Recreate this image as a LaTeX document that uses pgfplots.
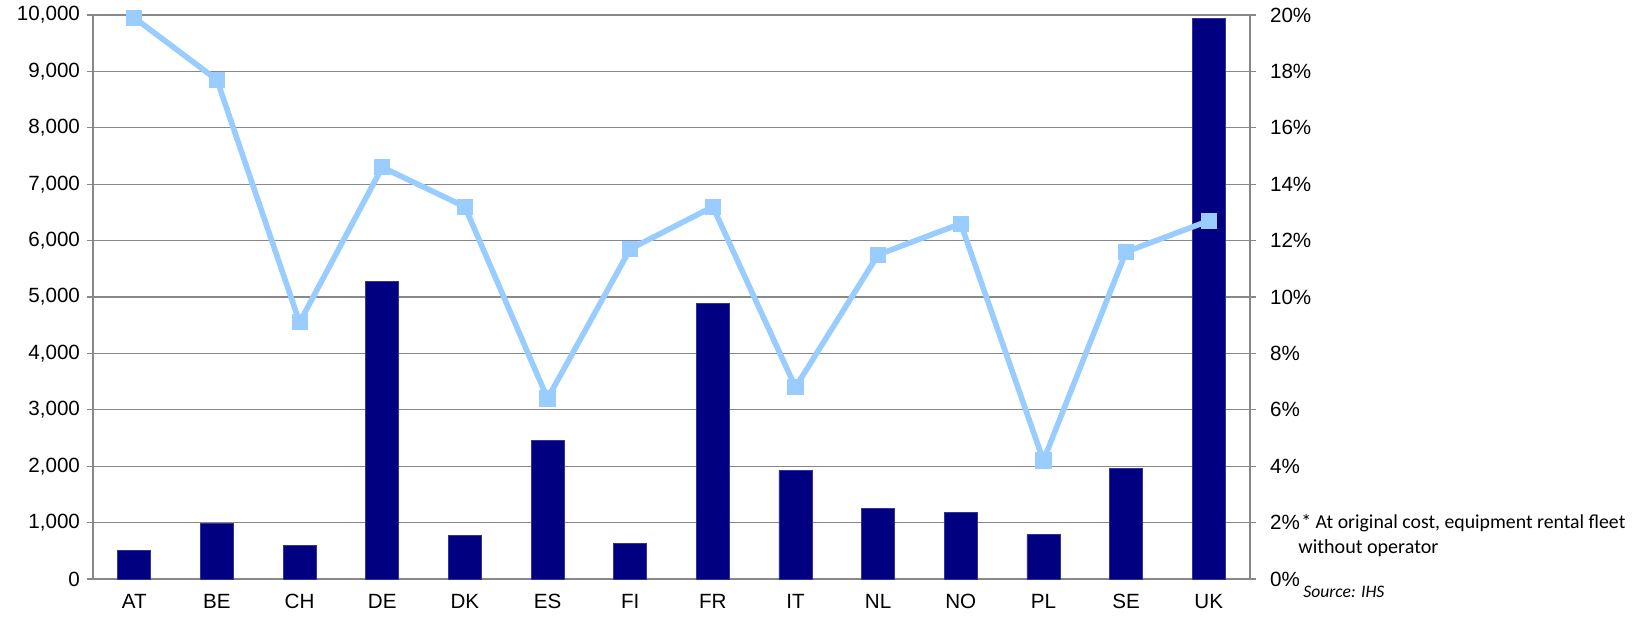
\documentclass[border=0pt]{standalone}
\usepackage{fontspec}
\setmainfont{Liberation Sans}
\newfontfamily\notefont{Carlito}
\usepackage{graphicx}
\usepackage{pgfplots}
\pgfplotsset{compat=1.18}
\definecolor{navybar}{HTML}{000080}
\definecolor{lineblue}{HTML}{99CCFF}
\definecolor{gridgray}{HTML}{888888}

\pgfplotstableread{
idx code fleet share
0  AT  510  19.9
1  BE  985  17.7
2  CH  595  9.1
3  DE  5280 14.6
4  DK  765  13.2
5  ES  2455 6.4
6  FI  630  11.7
7  FR  4890 13.2
8  IT  1930 6.8
9  NL  1245 11.5
10 NO  1185 12.6
11 PL  785  4.2
12 SE  1965 11.6
13 UK  9940 12.7
}\datatable

\begin{document}
\begin{tikzpicture}
\pgfplotsset{
  every axis/.append style={
    scale only axis,
    width=578.5pt, height=282pt,
    xmin=-0.5, xmax=13.5,
    tick align=outside,
    ticklabel style={font=\fontsize{10.3}{12}\selectfont},
    /pgf/number format/assume math mode=true,
    axis line style={gridgray, line width=0.6pt},
    every tick/.style={gridgray, line width=0.6pt},
    major tick length=3pt, minor tick length=3pt,
  },
}
\begin{axis}[
  name=main,
  ymin=0, ymax=10000,
  ytick={0,1000,...,10000},
  ymajorgrids,
  grid style={gridgray, line width=0.6pt},
  axis y line*=left,
  axis x line*=bottom,
  xtick=data,
  xticklabels from table={\datatable}{code},
  xtick style={draw=none},
  minor xtick={-0.5,0.5,...,13.5},
  yticklabel={\pgfmathprintnumber[1000 sep={,}]{\tick}},
  scaled y ticks=false,
  xticklabel style={yshift=-1pt},
]
\addplot[ybar, bar width=16.5pt, fill=navybar, draw=navybar!80!white] table[x=idx, y=fleet] {\datatable};
\end{axis}
\begin{axis}[
  ymin=0, ymax=20,
  ytick={0,2,...,20},
  axis y line*=right,
  axis x line=none,
  yticklabel={\pgfmathprintnumber{\tick}\%},
  yticklabel style={xshift=3.5pt},
  clip=false,
]
\addplot[lineblue, line width=2.8pt, mark=square*, mark size=3.8pt, mark options={fill=lineblue, draw=lineblue, line width=0pt}] table[x=idx, y=share] {\datatable};
\end{axis}
% footnote and source, sized to the reference widths
\node[anchor=west, inner sep=0pt] at ([xshift=25.5pt, yshift=28pt]main.south east)
  {\resizebox{162pt}{!}{\notefont * At original cost, equipment rental fleet}};
\node[anchor=west, inner sep=0pt] at ([xshift=24pt, yshift=15.5pt]main.south east)
  {\resizebox{70pt}{!}{\notefont without operator}};
\node[anchor=west, inner sep=0pt] at ([xshift=26.5pt, yshift=-6.5pt]main.south east)
  {\resizebox{40.5pt}{!}{\notefont\itshape Source: IHS}};
\pgfresetboundingbox
\path ([xshift=-46.5pt, yshift=-19pt]main.south west) rectangle ([xshift=775.5pt, yshift=289.5pt]main.south west);
\end{tikzpicture}
\end{document}
